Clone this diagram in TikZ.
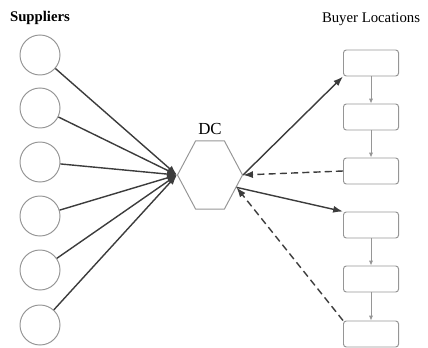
\documentclass[tikz,border=0pt]{standalone}
\usepackage{fontspec}
\setmainfont{Liberation Serif}
\usepackage{tikz}
\usetikzlibrary{shapes.geometric,shapes.symbols,arrows.meta,positioning}
\definecolor{linegray}{RGB}{ 60, 60, 60}
\definecolor{boxgray} {RGB}{150,150,150}
\tikzset{
  sup/.style  ={circle,draw=boxgray,line width=0.7pt,minimum size=1cm,inner sep=0pt},
  buy/.style  ={rectangle,draw=boxgray,line width=0.7pt,rounded corners=2pt,
                 minimum width=1.375cm,minimum height=0.65cm},
  hub/.style  ={signal,signal to=east and west,signal pointer angle=124,
                 draw=boxgray,line width=0.7pt,
                 minimum width=1.625cm,minimum height=1.7cm,inner sep=0pt},
  flow/.style ={-{Latex[length=7pt,width=5pt]},draw=linegray,line width=1pt},
  back/.style ={flow,dashed,dash pattern=on 5pt off 3pt},
  chain/.style={-{Latex[length=3.5pt,width=3pt]},draw=boxgray,line width=0.6pt},
  ttl/.style  ={font=\fontsize{10.5}{12}\selectfont,inner sep=1pt},
}

\begin{document}
\begin{tikzpicture}[x=0.025cm,y=-0.025cm]
  \useasboundingbox (0,0) rectangle (428,348);
  % titles
  \node[ttl,font=\fontsize{10.5}{12}\selectfont\bfseries] (suptitle) at (40,18)  {Suppliers};
  \node[ttl]                         (buytitle) at (371,19) {Buyer Locations};
  % suppliers
  \node[sup] (sup1) at (40,55)  {};
  \node[sup] (sup2) at (40,108) {};
  \node[sup] (sup3) at (40,162) {};
  \node[sup] (sup4) at (40,216) {};
  \node[sup] (sup5) at (40,270) {};
  \node[sup] (sup6) at (40,325) {};
  % distribution centre
  \node[hub] (dc) at (210,175) {};
  \node[ttl,font=\fontsize{12}{14}\selectfont] (dclbl) at (210,129) {DC};
  % buyer locations
  \node[buy] (buy1) at (371,63)  {};
  \node[buy] (buy2) at (371,117) {};
  \node[buy] (buy3) at (371,171) {};
  \node[buy] (buy4) at (371,225) {};
  \node[buy] (buy5) at (371,279) {};
  \node[buy] (buy6) at (371,334) {};
  % suppliers -> DC
  \draw[flow] (sup1) -- (dc.west);
  \draw[flow] (sup2) -- (dc.west);
  \draw[flow] (sup3) -- (dc.west);
  \draw[flow] (sup4) -- (dc.west);
  \draw[flow] (sup5) -- (dc.west);
  \draw[flow] (sup6) -- (dc.west);
  % DC <-> buyers
  \draw[flow] (dc.east) -- (buy1.south west);
  \draw[back] (buy3.west) -- (dc.east);
  \draw[flow] (dc.-25) -- (buy4.north west);
  \draw[back] (buy6.north west) -- (dc.-25);
  % chains of buyers
  \draw[chain] (buy1) -- (buy2);
  \draw[chain] (buy2) -- (buy3);
  \draw[chain] (buy4) -- (buy5);
  \draw[chain] (buy5) -- (buy6);
\end{tikzpicture}
\end{document}
